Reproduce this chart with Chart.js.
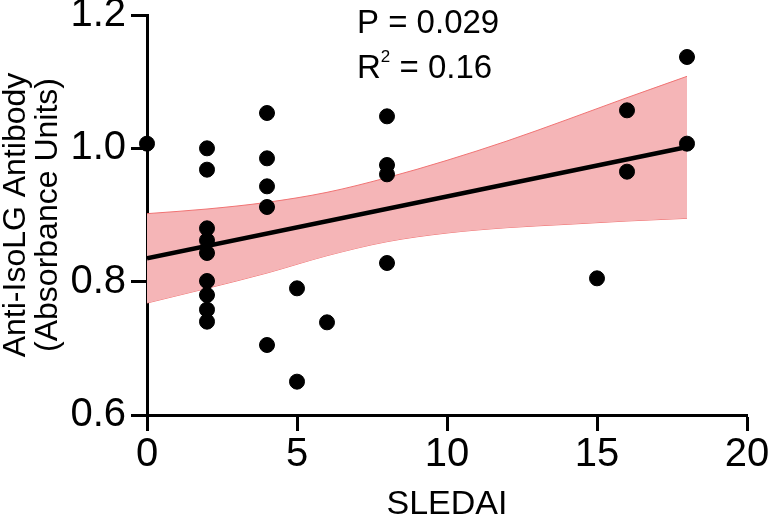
<!DOCTYPE html>
<html>
<head>
<meta charset="utf-8">
<script src="https://cdn.jsdelivr.net/npm/chart.js@4.4.1/dist/chart.umd.min.js"></script>
<style>
  html, body { margin: 0; padding: 0; background: #fff; }
  #wrap { width: 770px; height: 517px; position: relative; }
</style>
</head>
<body>
<div id="wrap"><canvas id="chart"></canvas></div>
<script>
// ── Data ───────────────────────────────────────────────────
const sledai   = [0, 2, 2, 2, 2, 2, 2, 2, 2, 2, 4, 4, 4, 4, 4, 5, 5, 6, 8, 8, 8, 8, 15, 16, 16, 18, 18];
const antibody = [1.007, 1.000, 0.968, 0.880, 0.862, 0.843, 0.801, 0.780, 0.758, 0.740,
                  1.053, 0.985, 0.943, 0.912, 0.705, 0.790, 0.650, 0.739,
                  1.048, 0.975, 0.961, 0.828, 0.805, 1.057, 0.965, 1.137, 1.007];

const fitX = [0, 18];
const fitY = [0.835, 1.002];

const bandX     = [0, 2, 4, 6, 8, 10, 12, 14, 16, 18];
const bandUpper = [0.902, 0.909, 0.919, 0.934, 0.956, 0.982, 1.011, 1.043, 1.076, 1.108];
const bandLower = [0.768, 0.790, 0.813, 0.839, 0.860, 0.873, 0.881, 0.886, 0.891, 0.895];

const xTicks = [0, 5, 10, 15, 20];
const yTicks = [0.6, 0.8, 1.0, 1.2];

const pText  = 'P = 0.029';
const r2Text = ' = 0.16';

// ── Helpers ────────────────────────────────────────────────
const FONT = '"Liberation Sans", Arial, Helvetica, sans-serif';
const toXY = (xs, ys) => xs.map((x, i) => ({ x, y: ys[i] }));

// ── Stats text (P / R²) ────────────────────────────────────
const statsLabels = {
    id: 'statsLabels',
    afterDatasetsDraw(chart) {
        const { ctx, scales: { x, y } } = chart;
        const left  = x.getPixelForValue(7);
        const pBase = y.getPixelForValue(1.173);
        const rBase = y.getPixelForValue(1.1055);

        ctx.save();
        ctx.fillStyle    = '#000';
        ctx.textBaseline = 'alphabetic';
        ctx.textAlign    = 'left';
        ctx.font = `33px ${FONT}`;
        ctx.fillText(pText, left, pBase);
        ctx.fillText('R', left, rBase);
        let cx = left + ctx.measureText('R').width;
        ctx.font = `17px ${FONT}`;
        ctx.fillText('2', cx, rBase - 16);
        cx += ctx.measureText('2').width;
        ctx.font = `33px ${FONT}`;
        ctx.fillText(r2Text, cx, rBase);
        ctx.restore();
    },
};

// ── Chart ──────────────────────────────────────────────────
const axisStyle = {
    grid:   { display: true, drawOnChartArea: false, drawTicks: true, tickLength: 16, tickWidth: 3, tickColor: '#000' },
    border: { display: true, color: '#000', width: 3 },
};

new Chart(document.getElementById('chart').getContext('2d'), {
    type: 'scatter',
    data: {
        datasets: [
            {
                label: 'Patients',
                data: toXY(sledai, antibody),
                backgroundColor: '#000',
                borderColor: '#000',
                pointRadius: 7.5,
                pointHoverRadius: 7.5,
                clip: false,
            },
            {
                label: 'Fit',
                type: 'line',
                data: toXY(fitX, fitY),
                borderColor: '#000',
                borderWidth: 4.5,
                pointRadius: 0,
                fill: false,
            },
            {
                label: 'CI upper',
                type: 'line',
                data: toXY(bandX, bandUpper),
                borderColor: '#F07373',
                borderWidth: 1,
                backgroundColor: '#F5B5B7',
                pointRadius: 0,
                cubicInterpolationMode: 'monotone',
                fill: '+1',
            },
            {
                label: 'CI lower',
                type: 'line',
                data: toXY(bandX, bandLower),
                borderColor: '#F07373',
                borderWidth: 1,
                pointRadius: 0,
                cubicInterpolationMode: 'monotone',
                fill: false,
            },
        ],
    },
    options: {
        responsive: true,
        maintainAspectRatio: false,
        animation: false,
        layout: { padding: 0 },
        plugins: {
            legend:  { display: false },
            tooltip: { enabled: false },
        },
        scales: {
            x: {
                type: 'linear',
                min: 0,
                max: 20,
                ...axisStyle,
                afterBuildTicks: s => { s.ticks = xTicks.map(v => ({ value: v })); },
                afterFit: s => { s.height = 102; s.paddingRight = 23; s.paddingLeft = 0; },
                ticks: { color: '#000', padding: 0, font: { family: FONT, size: 40 }, maxRotation: 0 },
                title: {
                    display: true,
                    text: 'SLEDAI',
                    color: '#000',
                    font: { family: FONT, size: 34, lineHeight: 1 },
                    padding: { top: 0, bottom: -5 },
                },
            },
            y: {
                min: 0.6,
                max: 1.2,
                ...axisStyle,
                afterBuildTicks: s => { s.ticks = yTicks.map(v => ({ value: v })); },
                afterFit: s => { s.width = 147; s.paddingTop = 15; },
                ticks: {
                    color: '#000',
                    padding: 5,
                    font: { family: FONT, size: 40 },
                    callback: v => Number(v).toFixed(1),
                },
                title: {
                    display: true,
                    text: ['Anti-IsoLG Antibody', '(Absorbance Units)'],
                    color: '#000',
                    font: { family: FONT, size: 32, lineHeight: 1.0 },
                    padding: { top: 0, bottom: 0 },
                },
            },
        },
    },
    plugins: [statsLabels],
});
</script>
</body>
</html>
